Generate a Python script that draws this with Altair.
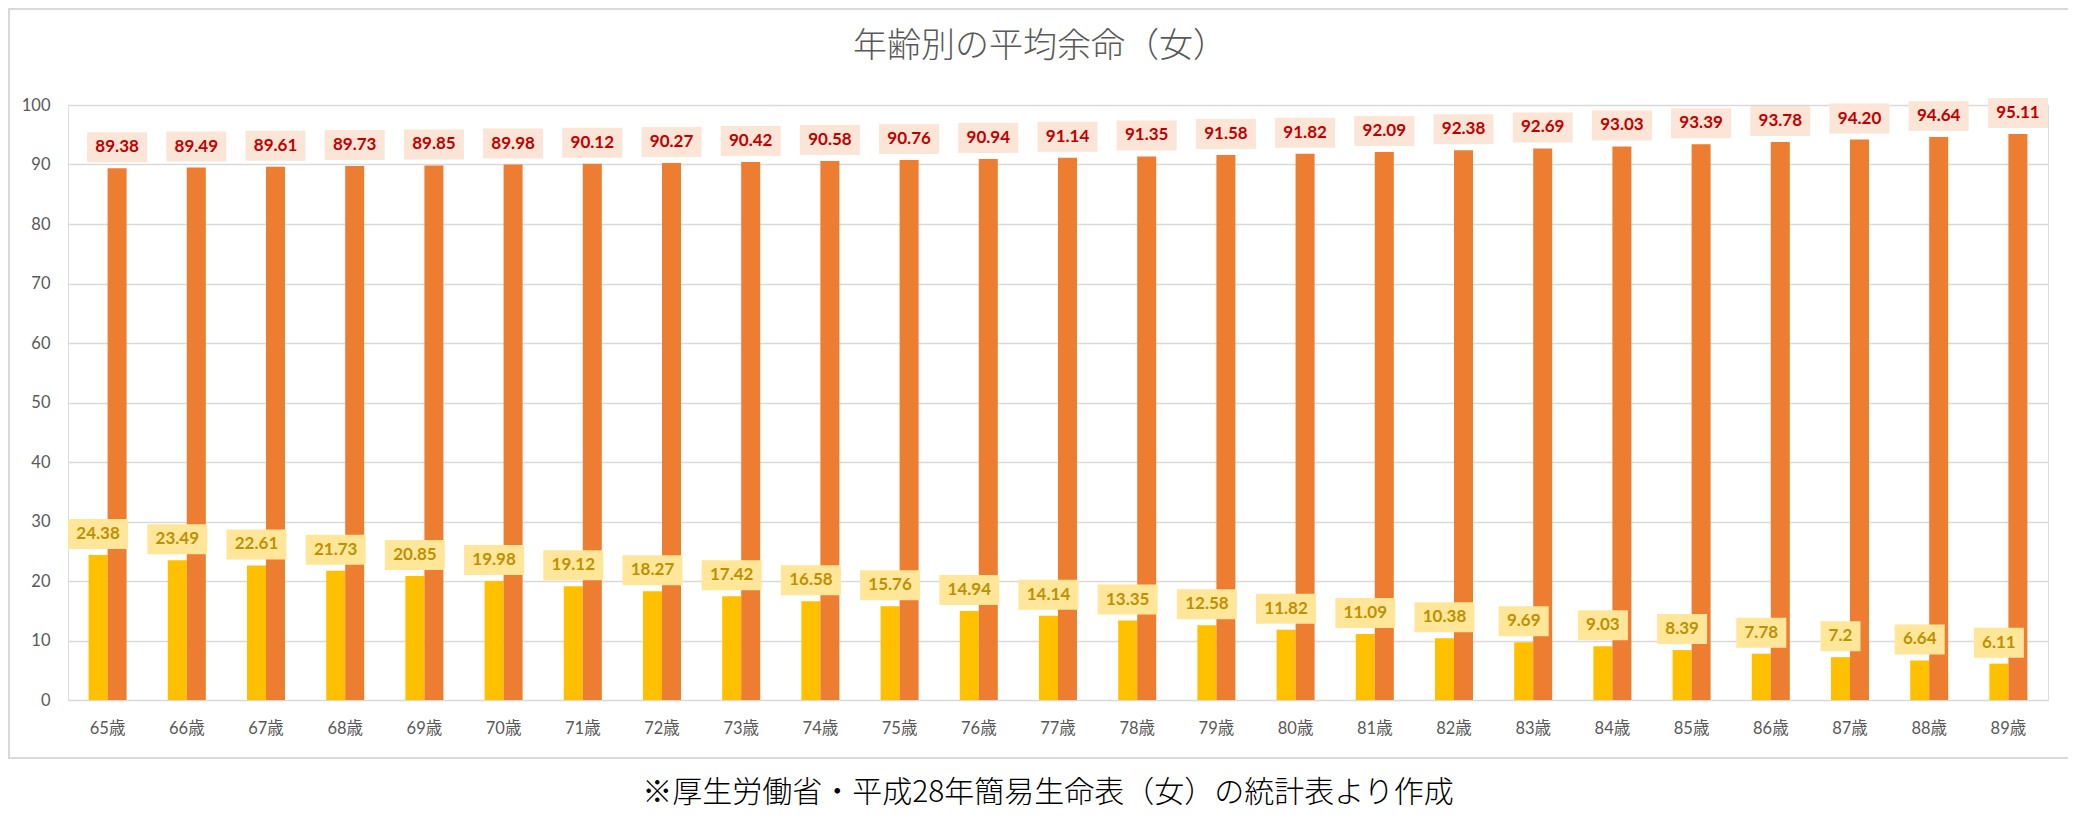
import altair as alt
import pandas as pd

# ---- data ----
ages = ["65歳", "66歳", "67歳", "68歳", "69歳", "70歳", "71歳", "72歳", "73歳",
        "74歳", "75歳", "76歳", "77歳", "78歳", "79歳", "80歳", "81歳", "82歳",
        "83歳", "84歳", "85歳", "86歳", "87歳", "88歳", "89歳"]
remaining = [24.38, 23.49, 22.61, 21.73, 20.85, 19.98, 19.12, 18.27, 17.42,
             16.58, 15.76, 14.94, 14.14, 13.35, 12.58, 11.82, 11.09, 10.38,
             9.69, 9.03, 8.39, 7.78, 7.2, 6.64, 6.11]
lifespan = [89.38, 89.49, 89.61, 89.73, 89.85, 89.98, 90.12, 90.27, 90.42,
            90.58, 90.76, 90.94, 91.14, 91.35, 91.58, 91.82, 92.09, 92.38,
            92.69, 93.03, 93.39, 93.78, 94.20, 94.64, 95.11]
series_names = ["平均余命", "平均寿命"]
y_ticks = [0, 10, 20, 30, 40, 50, 60, 70, 80, 90, 100]
title_text = "年齢別の平均余命（女）"
caption_text = "※厚生労働省・平成28年簡易生命表（女）の統計表より作成"

rows = []
for i, a in enumerate(ages):
    rows.append({"age": a, "series": series_names[0], "value": remaining[i],
                 "label": str(remaining[i])})
    rows.append({"age": a, "series": series_names[1], "value": lifespan[i],
                 "label": f"{lifespan[i]:.2f}"})
df = pd.DataFrame(rows)

FONT = "Lato, Noto Sans CJK JP, sans-serif"

base = alt.Chart(df).encode(
    x=alt.X("age:N", sort=ages,
            scale=alt.Scale(paddingInner=0.52, paddingOuter=0.26),
            axis=alt.Axis(title=None, labelAngle=0, ticks=False, tickSize=0,
                          domain=False, grid=False, labelFont=FONT,
                          labelFontSize=16.5, labelColor="#595959",
                          labelPadding=20)),
    xOffset=alt.XOffset("series:N", sort=series_names,
                        scale=alt.Scale(domain=series_names, paddingInner=0,
                                        paddingOuter=0)),
)

bars = base.mark_bar().encode(
    y=alt.Y("value:Q", scale=alt.Scale(domain=[0, 100]),
            axis=alt.Axis(title=None, values=y_ticks, grid=True,
                          gridColor="#D9D9D9", gridWidth=1.6, domain=False,
                          ticks=False, tickSize=0, labelFont=FONT,
                          labelFontSize=16.5, labelColor="#595959",
                          labelPadding=18)),
    color=alt.Color("series:N", scale=alt.Scale(domain=series_names,
                                                range=["#FFC000", "#ED7D31"]),
                    legend=None),
)

boxes = base.transform_calculate(
    bw="10*(length(datum.label)-1)+20"
).mark_bar(yOffset=-36, y2Offset=-6).encode(
    y=alt.Y("value:Q"),
    y2=alt.Y2("value"),
    size=alt.Size("bw:Q", scale=None),
    color=alt.Color("series:N", scale=alt.Scale(domain=series_names,
                                                range=["#FFE699", "#FBE5D6"]),
                    legend=None),
)

texts = base.mark_text(dy=-21, baseline="middle", align="center", font=FONT,
                       fontSize=17, fontWeight="bold").encode(
    y=alt.Y("value:Q"),
    text=alt.Text("label:N"),
    color=alt.Color("series:N", scale=alt.Scale(domain=series_names,
                                                range=["#BF9000", "#C00000"]),
                    legend=None),
)

frame = alt.Chart(pd.DataFrame({"k": [0]})).mark_rect(
    fillOpacity=0, stroke="#D9D9D9", strokeWidth=2
).encode(x=alt.value(-59), x2=alt.value(2003), y=alt.value(-96), y2=alt.value(653))

title = alt.Chart(pd.DataFrame({"t": [title_text]})).mark_text(
    font="Noto Sans CJK JP", fontSize=34, fontWeight=300, color="#595959",
    align="center", baseline="middle"
).encode(x=alt.value(972), y=alt.value(-58), text="t:N")

caption = alt.Chart(pd.DataFrame({"t": [caption_text]})).mark_text(
    font="Noto Sans CJK JP", fontSize=30, fontWeight=300, color="#000000",
    align="center", baseline="middle"
).encode(x=alt.value(980), y=alt.value(688), text="t:N")

chart = alt.layer(frame, bars, boxes, texts, title, caption).resolve_scale(
    color="independent"
).properties(
    width=1980, height=595,
    autosize=alt.AutoSizeParams(type="none"),
    padding={"left": 60, "top": 97, "right": 20, "bottom": 116},
).configure_view(stroke=None).configure(background="white")

chart.save("out.html", embed_options={"renderer": "svg", "actions": False})
